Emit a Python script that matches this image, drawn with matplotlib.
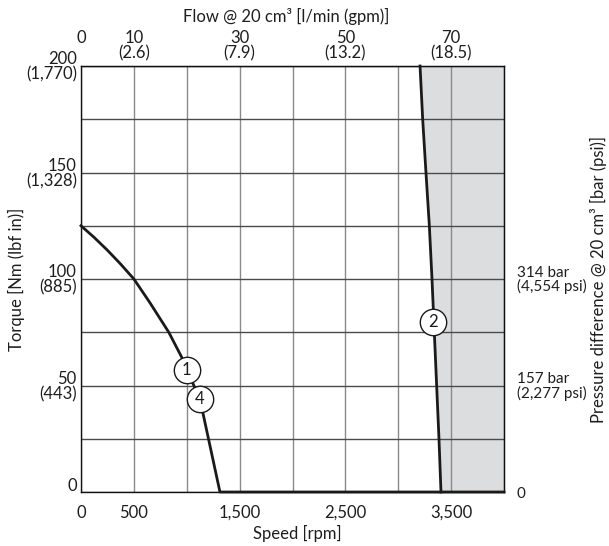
import matplotlib
matplotlib.use("Agg")
import matplotlib.pyplot as plt

plt.rcParams["font.family"] = ["Lato", "DejaVu Sans"]
plt.rcParams["font.size"] = 12

# Torque curve for settings 1 and 4, then the zero-torque run along the speed axis
speed_14 = [0, 125, 250, 375, 500, 650, 830, 950, 1000, 1125, 1314, 4000]
torque_14 = [125, 119.5, 113.5, 107, 100, 89, 75, 63.5, 57.5, 43.5, 0, 0]

# Near-vertical limit curve 2
speed_2 = [3206, 3231, 3262, 3294, 3319, 3341, 3363, 3385, 3404]
torque_2 = [200, 175, 150, 125, 100, 75, 50, 25, 0]

# Curve markers: (label, speed, torque)
markers = [("1", 1000, 57.5), ("4", 1125, 43.5), ("2", 3331, 80)]

speed_ticks = [0, 500, 1000, 1500, 2000, 2500, 3000, 3500, 4000]
speed_labels = ["0", "500", "", "1,500", "", "2,500", "", "3,500", ""]
torque_ticks = [0, 25, 50, 75, 100, 125, 150, 175, 200]
torque_labels = ["0\n", "", "50\n(443)", "", "100\n(885)", "",
                 "150\n(1,328)", "", "200\n(1,770)"]
flow_ticks = [0, 10, 30, 50, 70]
flow_labels = ["0\n", "10\n(2.6)", "30\n(7.9)", "50\n(13.2)", "70\n(18.5)"]
pressure_ticks = [0, 157, 314]
pressure_labels = ["0", "157 bar\n(2,277 psi)", "314 bar\n(4,554 psi)"]

DISPLACEMENT = 0.02  # l per rev (20 cm3)
BAR_PER_NM = 3.14
TEXT = "#1e1e1e"

fig = plt.figure(figsize=(6.09, 5.46), dpi=100)
ax = fig.add_axes([0.133, 0.0989, 0.6946, 0.7802])
ax.set_xlim(0, 4000)
ax.set_ylim(0, 200)
ax.set_axisbelow(True)

# Shaded region right of curve 2
ax.fill_betweenx(torque_2, speed_2, 4000, color="#dcdddf", lw=0, zorder=0.2)

ax.set_xticks(speed_ticks)
ax.set_xticklabels(speed_labels)
ax.set_yticks(torque_ticks)
ax.set_yticklabels(torque_labels)
ax.tick_params(axis="x", length=0, pad=9, colors=TEXT)
ax.tick_params(axis="y", length=0, pad=3, colors=TEXT)
for lab in ax.get_yticklabels():
    lab.set_linespacing(0.95)
ax.xaxis.grid(True, color="#8a8a8a", lw=1.0)
ax.yaxis.grid(True, color="#4a4a4a", lw=1.0)
for sp in ax.spines.values():
    sp.set_color("#111111")
    sp.set_linewidth(1.0)

ax.plot(speed_14, torque_14, color="#1a1a1a", lw=2.0, clip_on=False,
        solid_joinstyle="round", zorder=3)
ax.plot(speed_2, torque_2, color="#1a1a1a", lw=2.0, clip_on=False, zorder=3)

for text, s, t in markers:
    ax.plot(s, t, marker="o", ms=19, mfc="white", mec="#1a1a1a", mew=1.0,
            zorder=4)
    ax.text(s, t, text, ha="center", va="center", fontsize=12,
            color="#1a1a1a", zorder=5)

# Flow scale on top
top = ax.secondary_xaxis("top", functions=(lambda s: s * DISPLACEMENT,
                                           lambda f: f / DISPLACEMENT))
top.set_xticks(flow_ticks)
top.set_xticklabels(flow_labels)
top.tick_params(length=0, pad=3, colors=TEXT)
for lab in top.get_xticklabels():
    lab.set_linespacing(0.95)

# Pressure scale on the right
right = ax.secondary_yaxis("right", functions=(lambda t: t * BAR_PER_NM,
                                               lambda p: p / BAR_PER_NM))
right.set_yticks(pressure_ticks)
right.set_yticklabels(pressure_labels)
right.tick_params(length=0, pad=9, colors=TEXT, labelsize=11)
for lab in right.get_yticklabels():
    lab.set_linespacing(0.95)

# Axis titles
fig.text(0.47, 0.969, "Flow @ 20 cm³ [l/min (gpm)]", ha="center", va="center",
         color=TEXT)
fig.text(0.488, 0.022, "Speed [rpm]", ha="center", va="center", color=TEXT)
fig.text(0.027, 0.489, "Torque [Nm (lbf in)]", rotation=90, ha="center",
         va="center", color=TEXT)
fig.text(0.982, 0.489, "Pressure difference @ 20 cm³ [bar (psi)]", rotation=90,
         ha="center", va="center", color=TEXT)

fig.savefig("out.png", dpi=100)
